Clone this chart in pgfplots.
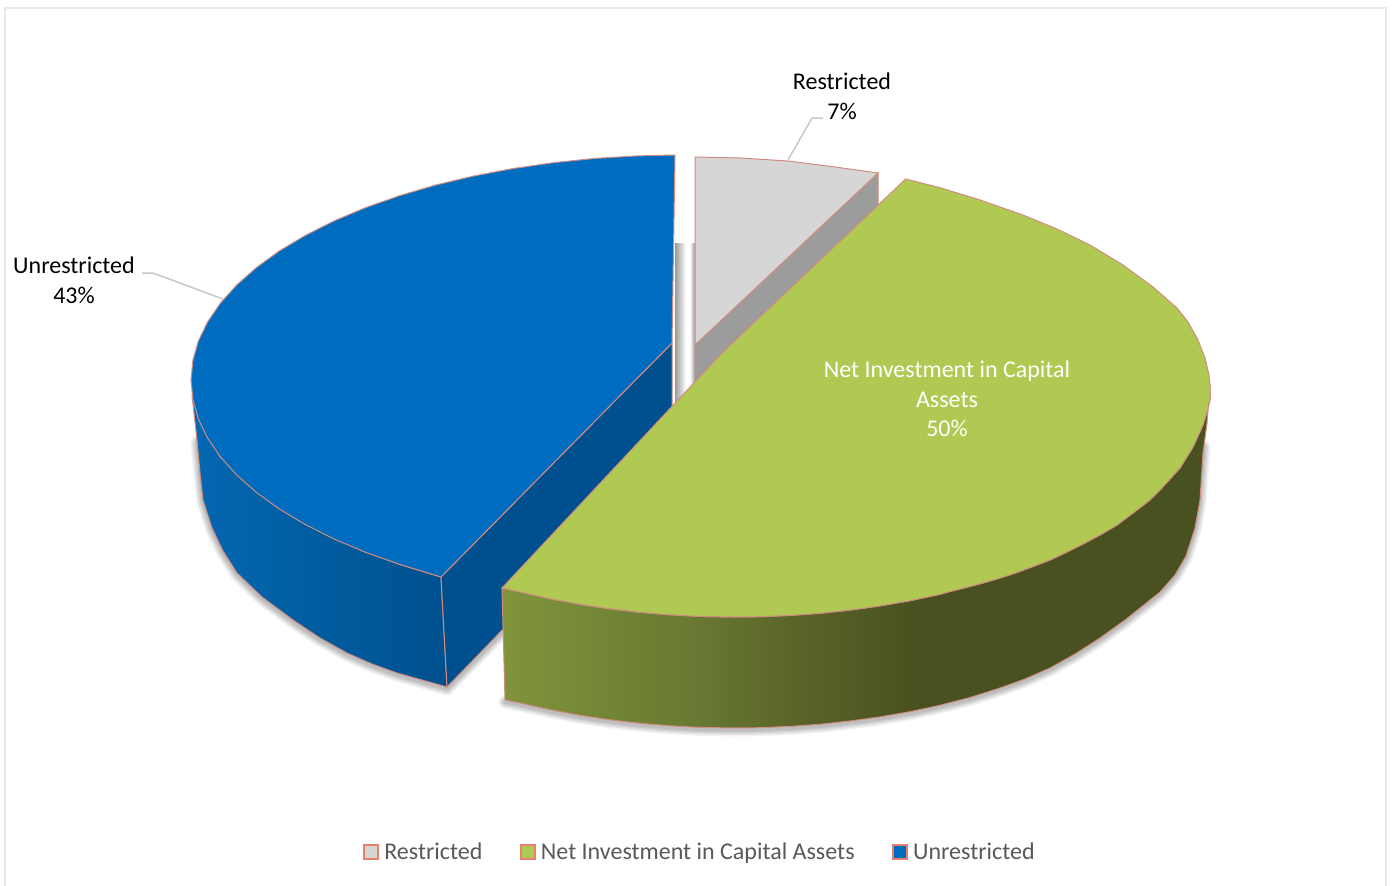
\documentclass[border=0pt]{standalone}
\usepackage{fontspec}
\usepackage{pgfplots}
\usepackage{pgfplotstable}
\pgfplotsset{compat=1.18}
\setmainfont{Carlito}

\definecolor{edge}{HTML}{D08C80}
\definecolor{leader}{HTML}{C8C8C8}
\definecolor{frameline}{HTML}{E8E8E8}
\definecolor{legendtext}{HTML}{595959}
\definecolor{legendedge}{HTML}{E8806E}
\definecolor{greyTop}{HTML}{D6D6D6}
\definecolor{greySide}{HTML}{9C9C9C}
\definecolor{blueTop}{HTML}{006CBF}
\definecolor{blueFace}{HTML}{00508F}
\definecolor{greenTop}{HTML}{B0C953}
\definecolor{gwA}{HTML}{80943B}
\definecolor{gwB}{HTML}{758836}
\definecolor{gwC}{HTML}{6A7A33}
\definecolor{gwD}{HTML}{596428}
\definecolor{gwE}{HTML}{4A5120}
\definecolor{bwA}{HTML}{0567B2}
\definecolor{bwB}{HTML}{005C9F}
\definecolor{gapGrey}{HTML}{9A9A9A}

% side-wall gradients; the path's bounding box spans 25bp to 75bp
\pgfdeclarehorizontalshading{greenwall}{100bp}{
  color(0bp)=(gwA);
  color(25bp)=(gwA);
  color(31bp)=(gwB);
  color(38bp)=(gwC);
  color(46bp)=(gwD);
  color(54bp)=(gwE);
  color(100bp)=(gwE)}
\pgfdeclarehorizontalshading{bluewall}{100bp}{
  color(0bp)=(bwA);
  color(25bp)=(bwA);
  color(50bp)=(bwB);
  color(75bp)=(blueFace);
  color(100bp)=(blueFace)}
\pgfdeclarehorizontalshading{gapshade}{100bp}{
  color(0bp)=(gapGrey);
  color(25bp)=(gapGrey);
  color(52bp)=(white);
  color(62bp)=(white);
  color(75bp)=(gapGrey);
  color(100bp)=(gapGrey)}

% lower rims of the two walls
\pgfplotstableread{
x y
1204 445
1200 500
1195 528
1186 556
1175 575
1160 592
1145 604
1125 620
1100 638
1075 654
1050 668
1025 679
1000 688
970 697.5
940 705.3
910 711.7
880 716.9
850 721
820 724.3
790 726.4
760 727.7
735 728
700 727.4
670 725.8
640 723.3
610 719.8
580 715.3
550 709.7
520 703
505 700
}\greenrim
\pgfplotstableread{
x y
197 440
200 473
203 500
212 528
223 551
237 573
262 597
293 620
320 638
347 653
372 664
397 673
422 680
447 687
501 632
}\bluerim

\begin{document}
\begin{tikzpicture}
\begin{axis}[
  scale only axis, width=1395pt, height=886pt,
  xmin=0, xmax=1395, ymin=0, ymax=886, y dir=reverse,
  hide axis, no markers,
  legend columns=3,
  legend style={at={(axis cs:699,852)}, anchor=center, draw=none, fill=none,
    font=\fontsize{24}{28}\selectfont\color{legendtext},
    nodes={inner sep=0pt},
    /tikz/every even column/.append style={column sep=37.5pt},
    /tikz/every odd column/.append style={column sep=5pt}},
  legend image code/.code={
    \draw[#1, line width=2pt, draw=legendedge] (0pt,-7pt) rectangle (14pt,7pt);},
]
% page background, which also fixes the size of the picture
\addplot[forget plot, fill=white, draw=none] coordinates
  {(0,0) (1395,0) (1395,886) (0,886)} -- cycle;

% chart frame
\addplot[forget plot, draw=frameline, line width=2pt] coordinates
  {(5,886) (5,8) (1386,8) (1386,886)};

% soft shadow under the walls
\pgfplotsinvokeforeach{13,10,7.5,5,3}{
  \addplot[forget plot, draw=black, opacity=.055, line width=#1pt, line cap=round, line join=round]
    table[y expr=\thisrow{y}+2] {\greenrim};
  \addplot[forget plot, draw=black, opacity=.055, line width=#1pt, line cap=round, line join=round]
    table[y expr=\thisrow{y}+2] {\bluerim};
}

% shadow in the gap between the slices
\addplot[forget plot, draw=none, shading=gapshade] coordinates
  {(675,243) (695,243) (695,410) (675,410)} -- cycle;

% Restricted: 7%
\addplot[forget plot, fill=greySide, draw=edge, line width=1pt] coordinates
  {(695,345) (878,173) (878,206) (695,390)} -- cycle;
\addplot[forget plot, fill=greyTop, draw=edge, line width=1pt] coordinates
  {(695,157) (740,158) (788,161) (835,167) (878,173) (695,345)} -- cycle;

% Unrestricted: 43%
\addplot[forget plot, shading=bluewall, draw=edge, line width=1pt] coordinates {
  (192,395) (197,440) (200,473) (203,500) (212,528) (223,551) (237,573) (262,597)
  (293,620) (320,638) (347,653) (372,664) (397,673) (422,680) (447,687) (441,577)
  (399.5,564.3) (300,520) (220,457) (192.9,399.6)} -- cycle;
\addplot[forget plot, fill=blueFace, draw=edge, line width=1pt] coordinates
  {(441,577) (672,343) (672,455) (447,687)} -- cycle;
\addplot[forget plot, fill=blueTop, draw=edge, line width=1pt] coordinates {
  (675,155) (637.4,155.9) (595.1,158.4) (553.4,162.7) (512.8,168.6) (473.3,176.1)
  (435.5,185.1) (399.5,195.7) (365.7,207.6) (334.2,220.9) (305.4,235.4) (279.4,250.9)
  (256.5,267.5) (236.8,284.9) (220.5,303) (207.7,321.8) (198.4,340.9) (192.9,360.4)
  (191,380) (192.9,399.6) (198.4,419.1) (207.7,438.2) (220.5,457) (236.8,475.1)
  (256.5,492.5) (279.4,509.1) (305.4,524.6) (334.2,539.1) (365.7,552.4) (399.5,564.3)
  (441,577) (672,343)} -- cycle;

% Net Investment in Capital Assets: 50%
\addplot[forget plot, shading=greenwall, draw=edge, line width=1pt] coordinates {
  (1210,385) (1210,400) (1208,408) (1203,425) (1193,447) (1180,468) (1160,490)
  (1150,500) (1133,513) (1117,525) (1100,535) (1083,544) (1067,552) (1050,560)
  (1033,566.5) (1017,572.5) (1000,578) (983,583) (966,587.5) (950,591.5) (940,594.3)
  (910,600.7) (880,605.9) (850,610.1) (820,613.3) (790,615.4) (760,616.7) (735,617)
  (700,616.4) (670,614.8) (640,612.3) (610,608.8) (580,604.3) (550,598.7) (520,591.9)
  (502,588) (505,700) (520,703) (550,709.7) (580,715.3) (610,719.8) (640,723.3)
  (670,725.8) (700,727.4) (735,728) (760,727.7) (790,726.4) (820,724.3) (850,721)
  (880,716.9) (910,711.7) (940,705.3) (970,697.5) (1000,688) (1025,679) (1050,668)
  (1075,654) (1100,638) (1125,620) (1145,604) (1160,592) (1175,575) (1186,556)
  (1195,528) (1200,500) (1203,453) (1207,423)} -- cycle;
\addplot[forget plot, fill=greenTop, draw=edge, line width=1pt] coordinates {
  (905.7,179) (940,187.7) (980,200) (1023,215) (1057,229) (1090,245) (1123,265)
  (1153,287) (1177,308) (1188,322) (1198,340) (1205,358) (1209,375) (1210,385)
  (1210,400) (1208,408) (1203,425) (1193,447) (1180,468) (1160,490) (1150,500)
  (1133,513) (1117,525) (1100,535) (1083,544) (1067,552) (1050,560) (1033,566.5)
  (1017,572.5) (1000,578) (983,583) (966,587.5) (950,591.5) (940,594.3) (910,600.7)
  (880,605.9) (850,610.1) (820,613.3) (790,615.4) (760,616.7) (735,617) (700,616.4)
  (670,614.8) (640,612.3) (610,608.8) (580,604.3) (550,598.7) (520,591.9) (502,588)
  (722,353)} -- cycle;

% leader lines
\addplot[forget plot, draw=leader, line width=1.5pt] coordinates {(788,160) (812,118) (823,118)};
\addplot[forget plot, draw=leader, line width=1.5pt] coordinates {(223,299) (153,273) (142,273)};

% data labels
\node[font=\fontsize{24}{30}\selectfont, align=center, text=black] at (axis cs:842,96.5) {Restricted\\7\%};
\node[font=\fontsize{24}{29.5}\selectfont, align=center, text=black] at (axis cs:74,280.5) {Unrestricted\\43\%};
\node[font=\fontsize{24}{29.5}\selectfont, align=center, text=white] at (axis cs:947,399) {Net Investment in Capital\\Assets\\50\%};

% legend
\addlegendimage{fill=greyTop}
\addlegendentry{Restricted}
\addlegendimage{fill=greenTop}
\addlegendentry{Net Investment in Capital Assets}
\addlegendimage{fill=blueTop}
\addlegendentry{Unrestricted}
\end{axis}
\end{tikzpicture}
\end{document}
